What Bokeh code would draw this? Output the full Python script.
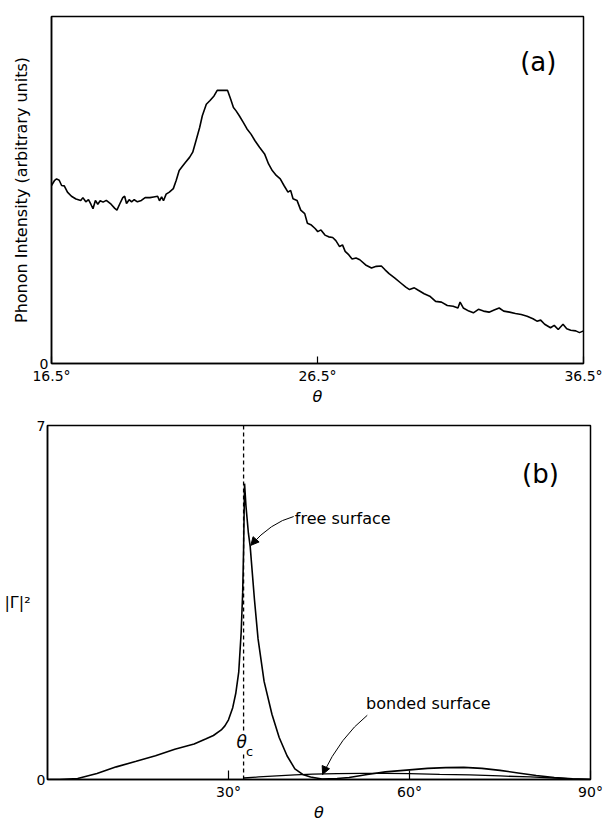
from bokeh.plotting import figure
from bokeh.models import Range1d, FixedTicker, Label, Arrow, NormalHead
from bokeh.embed import file_html
from bokeh.resources import INLINE

# ---------------- data: panel (a) ----------------
theta_a = [16.50, 16.62, 16.69, 16.79, 16.88, 16.98, 17.10, 17.25, 17.42, 17.60, 17.68, 17.79, 17.89,
           17.98, 18.06, 18.15, 18.24, 18.33, 18.44, 18.56, 18.74, 18.88, 18.96, 19.06, 19.18, 19.25,
           19.32, 19.42, 19.51, 19.61, 19.73, 19.88, 20.02, 20.20, 20.34, 20.49, 20.56, 20.64, 20.71,
           20.81, 20.93, 21.08, 21.19, 21.30, 21.40, 21.54, 21.69, 21.81, 21.95, 22.07, 22.17, 22.32,
           22.46, 22.61, 22.73, 23.12, 23.24, 23.34, 23.44, 23.56, 23.71, 23.85, 24.00, 24.15, 24.32,
           24.51, 24.66, 24.80, 24.95, 25.10, 25.24, 25.39, 25.49, 25.58, 25.73, 25.87, 26.02, 26.12,
           26.27, 26.41, 26.51, 26.63, 26.78, 26.92, 27.07, 27.19, 27.33, 27.44, 27.54, 27.68, 27.80,
           27.95, 28.09, 28.31, 28.53, 28.71, 28.90, 29.04, 29.19, 29.41, 29.63, 29.82, 29.96, 30.14,
           30.29, 30.51, 30.72, 30.94, 31.16, 31.38, 31.60, 31.78, 31.86, 31.98, 32.19, 32.36, 32.55,
           32.74, 32.95, 33.14, 33.33, 33.50, 33.72, 33.94, 34.16, 34.38, 34.60, 34.75, 34.89, 35.04,
           35.26, 35.40, 35.55, 35.73, 35.87, 36.02, 36.21, 36.35, 36.50]
intensity_a = [0.513, 0.528, 0.532, 0.528, 0.513, 0.512, 0.494, 0.482, 0.474, 0.470, 0.478, 0.466, 0.472,
               0.459, 0.446, 0.470, 0.459, 0.469, 0.465, 0.470, 0.459, 0.447, 0.442, 0.459, 0.478, 0.482,
               0.461, 0.472, 0.466, 0.472, 0.466, 0.470, 0.478, 0.478, 0.480, 0.482, 0.469, 0.480, 0.469,
               0.488, 0.494, 0.504, 0.528, 0.556, 0.566, 0.580, 0.594, 0.609, 0.647, 0.680, 0.714, 0.747,
               0.758, 0.771, 0.787, 0.787, 0.761, 0.738, 0.728, 0.714, 0.695, 0.676, 0.661, 0.642, 0.623,
               0.604, 0.575, 0.556, 0.542, 0.532, 0.513, 0.494, 0.499, 0.475, 0.470, 0.442, 0.432, 0.404,
               0.399, 0.389, 0.380, 0.385, 0.370, 0.365, 0.363, 0.354, 0.337, 0.342, 0.323, 0.313, 0.301,
               0.304, 0.299, 0.284, 0.275, 0.280, 0.281, 0.270, 0.259, 0.246, 0.232, 0.220, 0.213, 0.218,
               0.211, 0.201, 0.194, 0.179, 0.177, 0.167, 0.165, 0.160, 0.177, 0.160, 0.151, 0.146, 0.156,
               0.151, 0.148, 0.154, 0.160, 0.151, 0.148, 0.144, 0.141, 0.136, 0.129, 0.122, 0.125, 0.113,
               0.103, 0.110, 0.098, 0.113, 0.100, 0.096, 0.094, 0.089, 0.094]
a_xticks = [16.5, 26.5, 36.5]
a_xlabels = ["16.5°", "26.5°", "36.5°"]
a_yticks = [0]

# ---------------- data: panel (b) ----------------
theta_free = [0, 2, 5, 8.2, 11.4, 14.7, 17.9, 21.1, 24.3, 26.2, 27.5, 28.8, 29.4, 30.0, 30.7, 31.2,
              31.7, 32.1, 32.35, 32.5, 32.66, 32.9, 33.3, 33.6, 34.3, 34.9, 35.9, 37.2, 38.4, 39.7,
              41.0, 42.3, 43.6, 45.5, 48.0, 50.0, 53.0, 56.0, 60.0, 63.0, 66.0, 69.0, 72.0, 75.0,
              78.0, 81.0, 84.0, 87.0, 90.0]
gamma_free = [0.0, 0.0, 0.02, 0.12, 0.25, 0.36, 0.47, 0.60, 0.70, 0.80, 0.87, 0.98, 1.06, 1.18, 1.42, 1.70,
              2.13, 2.91, 3.70, 4.54, 5.85, 5.40, 4.87, 4.60, 3.56, 2.78, 1.94, 1.29, 0.83, 0.47,
              0.21, 0.10, 0.05, 0.01, 0.02, 0.04, 0.10, 0.15, 0.19, 0.22, 0.235, 0.24, 0.22, 0.18,
              0.13, 0.08, 0.04, 0.012, 0.0]
theta_bonded = [32.5, 35, 38, 41, 44, 48, 52, 56, 60, 65, 70, 75, 80, 84, 87, 90]
gamma_bonded = [0.03, 0.05, 0.07, 0.09, 0.105, 0.115, 0.12, 0.12, 0.115, 0.10, 0.09, 0.07, 0.05, 0.03,
                0.012, 0.0]
theta_c = 32.5
b_xticks = [30, 60, 90]
b_xlabels = ["30°", "60°", "90°"]
b_yticks = [0, 7]
b_ylabels = ["0", "7"]

FONT = "DejaVu Sans"


def style(p):
    p.grid.visible = False
    p.outline_line_color = "black"
    p.outline_line_width = 1.5
    p.outline_line_alpha = 1.0
    p.background_fill_color = "white"
    p.border_fill_color = "white"
    for ax in p.axis:
        ax.axis_line_color = "black"
        ax.axis_line_width = 1.5
        ax.major_tick_line_color = "black"
        ax.major_tick_line_width = 1.2
        ax.minor_tick_line_color = None
        ax.major_label_text_font = FONT
        ax.major_label_text_font_size = "14px"
        ax.major_label_text_color = "black"
        ax.axis_label_text_font = FONT
        ax.axis_label_text_color = "black"


# ---------------- panel (a) ----------------
p1 = figure(width=608, height=408, output_backend="svg", toolbar_location=None,
            x_range=Range1d(16.5, 36.5), y_range=Range1d(0, 1.0),
            min_border_left=51, min_border_right=25, min_border_top=16, min_border_bottom=44)
style(p1)
p1.line(theta_a, intensity_a, line_color="black", line_width=1.6)

p1.xaxis.ticker = FixedTicker(ticks=a_xticks)
p1.xaxis.major_label_overrides = dict(zip(a_xticks, a_xlabels))
p1.xaxis.major_tick_in = 7
p1.xaxis.major_tick_out = 0
p1.xaxis.major_label_standoff = 4
p1.xaxis.axis_label = "θ"
p1.xaxis.axis_label_text_font_style = "italic"
p1.xaxis.axis_label_text_font_size = "16px"
p1.xaxis.axis_label_standoff = 0

p1.yaxis.ticker = FixedTicker(ticks=a_yticks)
p1.yaxis.major_tick_in = 0
p1.yaxis.major_tick_out = 0
p1.yaxis.major_label_standoff = 3
p1.yaxis.axis_label = "Phonon Intensity (arbitrary units)"
p1.yaxis.axis_label_text_font_style = "normal"
p1.yaxis.axis_label_text_font_size = "16px"
p1.yaxis.axis_label_standoff = 6

p1.add_layout(Label(x=34.8, y=0.868, text="(a)", text_font=FONT, text_font_size="26px",
                    text_align="center", text_baseline="middle", text_color="black"))

# ---------------- panel (b) ----------------
p2 = figure(width=608, height=416, output_backend="svg", toolbar_location=None,
            x_range=Range1d(0, 90), y_range=Range1d(0, 7),
            min_border_left=47, min_border_right=18, min_border_top=17, min_border_bottom=42)
style(p2)
p2.line(theta_free, gamma_free, line_color="black", line_width=1.6)
p2.line(theta_bonded, gamma_bonded, line_color="black", line_width=1.3)
p2.line([theta_c, theta_c], [0, 7], line_color="black", line_width=1.3, line_dash="4 3")

p2.xaxis.ticker = FixedTicker(ticks=b_xticks)
p2.xaxis.major_label_overrides = dict(zip(b_xticks, b_xlabels))
p2.xaxis.major_tick_in = 9
p2.xaxis.major_tick_out = 0
p2.xaxis.major_label_standoff = 4
p2.xaxis.axis_label = "θ"
p2.xaxis.axis_label_text_font_style = "italic"
p2.xaxis.axis_label_text_font_size = "16px"
p2.xaxis.axis_label_standoff = 0

p2.yaxis.ticker = FixedTicker(ticks=b_yticks)
p2.yaxis.major_label_overrides = dict(zip(b_yticks, b_ylabels))
p2.yaxis.major_tick_in = 0
p2.yaxis.major_tick_out = 0
p2.yaxis.major_label_standoff = 2
p2.yaxis.axis_label = "|Γ|²"
p2.yaxis.axis_label_orientation = "horizontal"
p2.yaxis.axis_label_text_font_style = "normal"
p2.yaxis.axis_label_text_font_size = "16px"
p2.yaxis.axis_label_standoff = 3

p2.add_layout(Label(x=81.7, y=6.04, text="(b)", text_font=FONT, text_font_size="26px",
                    text_align="center", text_baseline="middle", text_color="black"))

# theta_c label
p2.add_layout(Label(x=theta_c - 0.3, y=0.74, text="θ", text_font=FONT, text_font_size="17px",
                    text_font_style="italic", text_align="center", text_baseline="middle",
                    background_fill_color="white", text_color="black"))
p2.add_layout(Label(x=theta_c + 1.0, y=0.55, text="c", text_font=FONT, text_font_size="13px",
                    text_align="center", text_baseline="middle", background_fill_color="white",
                    text_color="black"))

# annotations
p2.add_layout(Label(x=41.0, y=5.17, text="free surface", text_font=FONT, text_font_size="16px",
                    text_align="left", text_baseline="middle", text_color="black"))
p2.quadratic(x0=[40.8], y0=[5.2], x1=[33.7], y1=[4.63], cx=[37.0], cy=[5.08],
             line_color="black", line_width=1.0)
p2.add_layout(Arrow(end=NormalHead(size=8, fill_color="black", line_color="black"),
                    x_start=37.0, y_start=5.08, x_end=33.7, y_end=4.63, line_alpha=0))

p2.add_layout(Label(x=52.8, y=1.5, text="bonded surface", text_font=FONT, text_font_size="16px",
                    text_align="left", text_baseline="middle", text_color="black"))
p2.quadratic(x0=[53.0], y0=[1.27], x1=[45.6], y1=[0.1], cx=[48.6], cy=[0.85],
             line_color="black", line_width=1.0)
p2.add_layout(Arrow(end=NormalHead(size=8, fill_color="black", line_color="black"),
                    x_start=48.0, y_start=0.75, x_end=45.6, y_end=0.1, line_alpha=0))

open("out.html", "w").write(file_html([p1, p2], INLINE))
